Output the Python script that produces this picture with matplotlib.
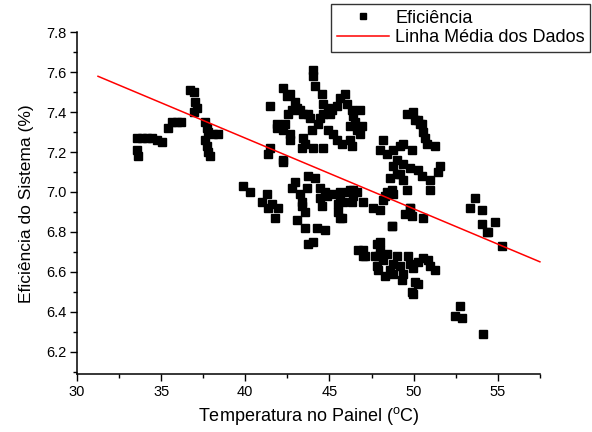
import matplotlib

matplotlib.use("Agg")
import matplotlib.pyplot as plt
import numpy as np
from matplotlib.ticker import MultipleLocator

plt.rcParams["font.family"] = ["Liberation Sans", "DejaVu Sans"]
plt.rcParams["mathtext.fontset"] = "custom"
plt.rcParams["mathtext.rm"] = "Liberation Sans"

# panel temperature (degC) and system efficiency (%)
temp = [
    # left group
    33.57, 33.62, 33.57, 33.86, 34.16, 34.46, 34.75, 35.05, 35.41, 35.64,
    35.94, 36.18, 36.71, 36.95, 37.01, 37.13, 36.95, 37.61, 37.72, 37.78,
    38.08, 38.38, 37.61, 37.72, 37.78, 37.90,
    # lower-left group
    39.86, 40.28, 41.29, 40.99, 41.59, 41.35, 41.94, 41.76,
    42.95, 42.77, 43.25, 43.37, 43.67, 43.73, 44.14, 43.55, 43.37, 43.07,
    43.55, 44.26, 44.74, 43.73, 44.02, 44.44, 44.74, 44.44, 44.86, 45.21,
    44.56, 45.63, 45.81, 45.51, 45.75, 46.10, 46.40, 46.34, 42.24,
    # upper-middle group
    44.02, 44.02, 42.26, 42.66, 42.95, 43.05, 42.76, 43.25, 43.45, 43.74,
    43.84, 42.56, 42.36, 41.87, 42.26, 42.66, 42.66, 43.45, 43.55, 43.35,
    44.04, 43.95, 44.34, 44.44, 44.64, 44.14, 44.54, 44.64, 44.93, 45.13,
    45.03, 45.43, 45.63, 45.92, 46.02, 46.32, 46.42, 46.52, 46.22, 46.62,
    46.82, 44.93, 45.23, 45.43, 45.73, 46.22, 46.32, 44.64, 41.47, 41.47,
    41.35, 42.24, 42.45, 41.90, 46.82, 46.92,
    # right-middle group
    49.59, 49.98, 50.28, 50.48, 50.58, 50.68, 50.78, 51.27, 48.20, 48.00,
    48.40, 48.79, 49.19, 49.39, 49.88, 48.99, 48.79, 49.39, 49.19, 49.79,
    50.28, 50.48, 50.97, 51.57, 51.47, 49.39, 49.59, 48.70, 48.30, 50.97,
    49.79, 50.08, 50.38, 49.49, 49.88, 50.58, 49.79, 48.70,
    45.63, 45.53, 45.63, 46.22, 46.42, 46.62, 47.01, 47.61, 48.00, 48.20,
    48.40, 48.79, 48.60, 48.99,
    # far right group
    53.65, 53.35, 54.05, 54.05, 54.84, 54.44, 55.23, 54.34,
    # lower-right group
    48.70, 48.00, 47.01, 47.11, 47.71, 47.81, 47.90, 48.20, 48.40, 48.79,
    48.60, 48.99, 49.19, 49.39, 49.29, 49.69, 49.79, 49.98, 50.28, 50.58,
    50.87, 50.97, 51.27, 50.08, 50.28, 49.88, 48.30, 48.79, 49.98,
    46.72, 47.01, 47.81, 48.00, 47.90,
    # bottom outliers
    52.76, 52.46, 52.86, 54.14,
]
efic = [
    7.21, 7.18, 7.27, 7.27, 7.27, 7.27, 7.26, 7.25, 7.32, 7.35,
    7.35, 7.35, 7.51, 7.50, 7.45, 7.42, 7.40, 7.35, 7.32, 7.30,
    7.29, 7.29, 7.26, 7.23, 7.20, 7.18,
    7.03, 7.00, 6.99, 6.95, 6.94, 6.92, 6.92, 6.87,
    7.05, 7.02, 6.99, 6.95, 7.02, 7.08, 7.07, 6.90, 6.93, 6.86,
    6.82, 6.82, 6.81, 6.74, 6.75, 7.02, 7.00, 6.97, 6.98, 6.99,
    6.93, 7.00, 6.95, 6.90, 6.87, 7.00, 7.01, 6.95, 7.15,
    7.61, 7.58, 7.52, 7.49, 7.45, 7.42, 7.41, 7.41, 7.39, 7.39,
    7.37, 7.39, 7.34, 7.34, 7.31, 7.29, 7.26, 7.27, 7.24, 7.22,
    7.22, 7.31, 7.34, 7.37, 7.39, 7.53, 7.49, 7.44, 7.42, 7.41,
    7.39, 7.43, 7.47, 7.49, 7.44, 7.41, 7.38, 7.35, 7.33, 7.31,
    7.29, 7.31, 7.29, 7.26, 7.24, 7.26, 7.23, 7.22, 7.43, 7.22,
    7.19, 7.16, 7.48, 7.32, 7.41, 7.33,
    7.39, 7.40, 7.36, 7.34, 7.30, 7.27, 7.24, 7.23, 7.26, 7.21,
    7.19, 7.21, 7.23, 7.24, 7.21, 7.16, 7.13, 7.14, 7.09, 7.12,
    7.11, 7.08, 7.06, 7.13, 7.10, 7.06, 7.01, 7.01, 6.98, 7.01,
    6.92, 7.36, 7.34, 6.89, 6.88, 6.87, 6.92, 6.83,
    6.98, 6.94, 6.87, 7.01, 6.98, 7.00, 6.95, 6.92, 6.91, 6.96,
    7.00, 6.99, 7.07, 7.09,
    6.97, 6.92, 6.91, 6.84, 6.85, 6.80, 6.73, 6.80,
    6.83, 6.75, 6.71, 6.68, 6.68, 6.63, 6.61, 6.66, 6.69, 6.64,
    6.61, 6.68, 6.63, 6.59, 6.56, 6.68, 6.64, 6.62, 6.65, 6.67,
    6.66, 6.63, 6.61, 6.55, 6.54, 6.50, 6.58, 6.59, 6.49,
    6.71, 6.68, 6.74, 6.71, 6.68,
    6.43, 6.38, 6.37, 6.29,
]

# mean trend line endpoints
trend_x = [31.25, 57.5]
trend_y = [7.58, 6.65]

fig = plt.figure(figsize=(5.92, 4.32), dpi=100)
ax = fig.add_axes([0.130, 0.134, 0.782, 0.791])

ax.plot(temp, efic, ls="none", marker="s", ms=5.4, color="black",
        mec="black", label="Eficiência")
ax.plot(trend_x, trend_y, color="red", lw=1.1, label="Linha Média dos Dados",
        clip_on=False)

ax.set_xlim(30, 57.5)
ax.set_ylim(6.087, 7.8)
ax.xaxis.set_major_locator(MultipleLocator(5))
ax.xaxis.set_minor_locator(MultipleLocator(2.5))
ax.yaxis.set_major_locator(MultipleLocator(0.2))
ax.yaxis.set_minor_locator(MultipleLocator(0.1))
ax.yaxis.set_major_formatter(matplotlib.ticker.FormatStrFormatter("%.1f"))
ax.tick_params(which="major", direction="out", length=5, width=1, labelsize=10.5,
               pad=2.5)
ax.tick_params(which="minor", direction="out", length=3, width=1)
for s in ("top", "right"):
    ax.spines[s].set_visible(False)
for s in ("left", "bottom"):
    ax.spines[s].set_linewidth(1.1)

ax.set_xlabel(r"Temperatura no Painel ($^{\rm o}$C)", fontsize=13, labelpad=5)
ax.set_ylabel("Eficiência do Sistema (%)", fontsize=12.5, labelpad=9)

leg = ax.legend(loc="upper right", bbox_to_anchor=(0.997, 0.99),
                bbox_transform=fig.transFigure, fontsize=13, frameon=True,
                fancybox=False, edgecolor="black", borderpad=0.3,
                labelspacing=0.15, handlelength=2.9, handletextpad=0.35,
                borderaxespad=0, markerscale=0.8)
leg.get_frame().set_linewidth(1.0)

fig.savefig("out.png", dpi=100)
